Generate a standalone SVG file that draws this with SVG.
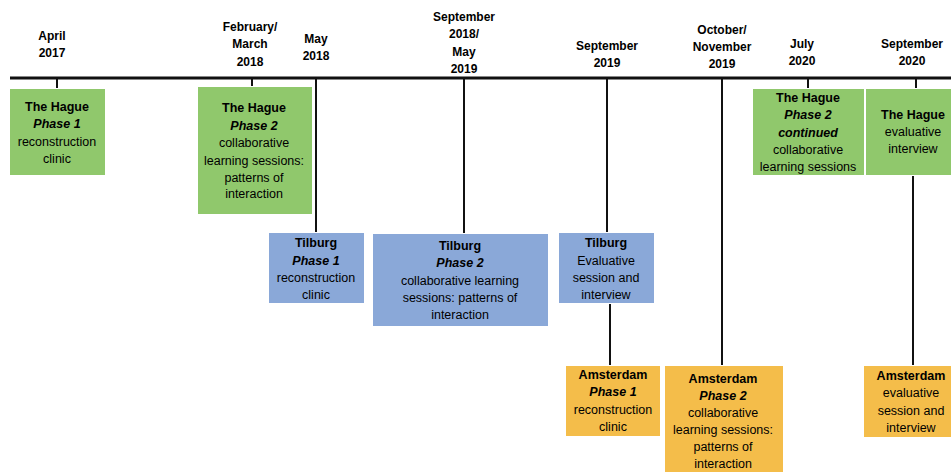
<svg xmlns="http://www.w3.org/2000/svg" width="951" height="472" viewBox="0 0 951 472">
<style>
text{font-family:"Liberation Sans",Arial,sans-serif;font-size:12.5px;fill:#000;text-anchor:middle}
.b{font-weight:bold}
.bi{font-weight:bold;font-style:italic}
.d{font-weight:bold;font-size:12px}
.g{fill:#90C86C}
.bl{fill:#8AA8D8}
.o{fill:#F4BD4A}
.box{stroke:#fff;stroke-width:1}
.ln{stroke:#111;stroke-width:2;fill:none}
</style>
<rect width="951" height="472" fill="#fff"/>
<g id="timeline"><line x1="10" y1="78" x2="951" y2="78" stroke="#111" stroke-width="3"/></g>
<g id="connectors">
<line class="ln" x1="57" y1="79" x2="57" y2="89"/>
<line class="ln" x1="252" y1="79" x2="252" y2="87"/>
<line class="ln" x1="316" y1="79" x2="316" y2="232"/>
<line class="ln" x1="464" y1="79" x2="464" y2="233"/>
<line class="ln" x1="607" y1="79" x2="607" y2="232"/>
<line class="ln" x1="610" y1="303" x2="610" y2="365"/>
<line class="ln" x1="722" y1="79" x2="722" y2="365"/>
<line class="ln" x1="808" y1="79" x2="808" y2="88"/>
<line class="ln" x1="916" y1="79" x2="916" y2="88"/>
<line class="ln" x1="913" y1="175" x2="913" y2="365"/>
</g>
<g id="dates">
<text class="d" x="52" y="40">April</text><text class="d" x="52" y="57">2017</text>
<text class="d" x="250" y="31">February/</text><text class="d" x="250" y="48">March</text><text class="d" x="250" y="66">2018</text>
<text class="d" x="316" y="43">May</text><text class="d" x="316" y="60">2018</text>
<text class="d" x="464" y="21">September</text><text class="d" x="464" y="38">2018/</text><text class="d" x="464" y="56">May</text><text class="d" x="464" y="73">2019</text>
<text class="d" x="607" y="50">September</text><text class="d" x="607" y="67">2019</text>
<text class="d" x="722" y="34">October/</text><text class="d" x="722" y="51">November</text><text class="d" x="722" y="68">2019</text>
<text class="d" x="802" y="48">July</text><text class="d" x="802" y="65">2020</text>
<text class="d" x="912" y="48">September</text><text class="d" x="912" y="65">2020</text>
</g>
<g id="hague1">
<rect class="box g" x="9.5" y="88.5" width="96" height="87"/>
<text class="b" x="57" y="111">The Hague</text><text class="bi" x="57" y="128">Phase 1</text><text x="57" y="146">reconstruction</text><text x="57" y="163">clinic</text>
</g>
<g id="hague2">
<rect class="box g" x="197.5" y="86.5" width="115" height="128"/>
<text class="b" x="254" y="112">The Hague</text><text class="bi" x="254" y="130">Phase 2</text><text x="254" y="147">collaborative</text><text x="254" y="165">learning sessions:</text><text x="254" y="182">patterns of</text><text x="254" y="198">interaction</text>
</g>
<g id="tilburg1">
<rect class="box bl" x="268.5" y="232.5" width="96" height="71"/>
<text class="b" x="316" y="247">Tilburg</text><text class="bi" x="316" y="265">Phase 1</text><text x="316" y="282">reconstruction</text><text x="316" y="299">clinic</text>
</g>
<g id="tilburg2">
<rect class="box bl" x="372.5" y="233.5" width="176" height="93"/>
<text class="b" x="460" y="250">Tilburg</text><text class="bi" x="460" y="267">Phase 2</text><text x="460" y="285">collaborative learning</text><text x="460" y="302">sessions: patterns of</text><text x="460" y="319">interaction</text>
</g>
<g id="tilburg3">
<rect class="box bl" x="558.5" y="232.5" width="96" height="71"/>
<text class="b" x="606" y="247">Tilburg</text><text x="606" y="265">Evaluative</text><text x="606" y="282">session and</text><text x="606" y="299">interview</text>
</g>
<g id="amsterdam1">
<rect class="box o" x="565.5" y="365.5" width="95" height="71"/>
<text class="b" x="613" y="379">Amsterdam</text><text class="bi" x="613" y="396">Phase 1</text><text x="613" y="414">reconstruction</text><text x="613" y="431">clinic</text>
</g>
<g id="amsterdam2">
<rect class="box o" x="664.5" y="365.5" width="119" height="110"/>
<text class="b" x="723" y="383">Amsterdam</text><text class="bi" x="723" y="400">Phase 2</text><text x="723" y="417">collaborative</text><text x="723" y="434">learning sessions:</text><text x="723" y="451">patterns of</text><text x="723" y="468">interaction</text>
</g>
<g id="hague3">
<rect class="box g" x="752.5" y="88.5" width="112" height="87"/>
<text class="b" x="808" y="102">The Hague</text><text class="bi" x="808" y="119">Phase 2</text><text class="bi" x="808" y="137">continued</text><text x="808" y="154">collaborative</text><text x="808" y="171">learning sessions</text>
</g>
<g id="hague4">
<rect class="box g" x="865.5" y="88.5" width="90" height="87"/>
<text class="b" x="913" y="119">The Hague</text><text x="913" y="136">evaluative</text><text x="913" y="153">interview</text>
</g>
<g id="amsterdam3">
<rect class="box o" x="863.5" y="365.5" width="92" height="72"/>
<text class="b" x="911" y="380">Amsterdam</text><text x="911" y="397">evaluative</text><text x="911" y="415">session and</text><text x="911" y="432">interview</text>
</g>
</svg>
